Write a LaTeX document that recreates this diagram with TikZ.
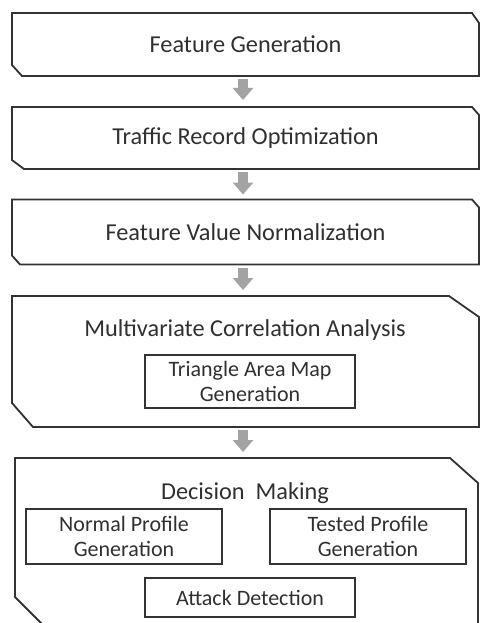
\documentclass[tikz,border=0pt]{standalone}
\usepackage{fontspec}
\setmainfont{Carlito}
\usetikzlibrary{arrows.meta}

\definecolor{linegray}{HTML}{333333}
\definecolor{textgray}{HTML}{303030}
\definecolor{arrowgray}{HTML}{A3A3A3}

\tikzset{
  frame/.style={inner sep=0pt, outer sep=0pt, text=textgray,
    font=\fontsize{24.3}{26}\selectfont},
  title/.style={text=textgray, font=\fontsize{24.3}{26}\selectfont, inner sep=0pt},
  inbox/.style={draw=linegray, line width=1.6pt, inner sep=0pt, outer sep=0pt,
    align=center, text=textgray, font=\fontsize{22}{25.5}\selectfont},
  frameline/.style={draw=linegray, line width=1.8pt, line join=miter},
  flow/.style={draw=arrowgray, line width=10pt,
    -{Triangle[width=20pt,length=12pt]}}
}

% outline with cut corners (top right, bottom left)
\newcommand{\cutbox}[5]{%
  \draw[frameline] (#1.north west) -- ([xshift=-#2]#1.north east)
    -- ([yshift=-#3]#1.north east) -- (#1.south east)
    -- ([xshift=#4]#1.south west) -- ([yshift=#5]#1.south west) -- cycle;}

\begin{document}
\begin{tikzpicture}
\begin{scope}[x=1pt,y=-1pt]
\useasboundingbox (0,0) rectangle (480,623);
\clip (0,0) rectangle (480,623);

% outer stages
\node[frame, minimum width=467pt, minimum height=63pt] (fg) at (245.5,44.5) {Feature Generation};
\node[frame, minimum width=467pt, minimum height=62pt] (tro) at (245.5,138) {Traffic Record Optimization};
\node[frame, minimum width=467pt, minimum height=65pt] (fvn) at (245.5,232) {Feature Value Normalization};
\node[frame, minimum width=467pt, minimum height=131pt] (mca) at (245.5,361.5) {};
\node[frame, minimum width=463pt, minimum height=168pt] (dm) at (246.5,542) {};

\cutbox{fg}{7pt}{10pt}{10pt}{11pt}
\cutbox{tro}{7pt}{8pt}{12pt}{9pt}
\cutbox{fvn}{7pt}{8pt}{8pt}{9pt}
\cutbox{mca}{30pt}{21pt}{21pt}{24pt}
\cutbox{dm}{28pt}{25pt}{29pt}{29pt}

% contents
\node[title] (mcatitle) at (245,330) {Multivariate Correlation Analysis};
\node[inbox, minimum width=210pt, minimum height=53pt] (tam) at (250,381.5) {Triangle Area Map\\Generation};

\node[title] (dmtitle) at (245,493) {Decision~ Making};
\node[inbox, minimum width=196pt, minimum height=55pt] (npg) at (124,536.5) {Normal Profile\\Generation};
\node[inbox, minimum width=196pt, minimum height=55pt] (tpg) at (368,536.5) {Tested Profile\\Generation};
\node[inbox, minimum width=210pt, minimum height=39pt] (ad) at (250,597.5) {Attack Detection};

% arrows
\draw[flow, shorten <=3pt, shorten >=7pt] ([xshift=-2.5pt]fg.south) -- ([xshift=-2.5pt]tro.north);
\draw[flow, shorten <=3pt, shorten >=5pt] ([xshift=-2.5pt]tro.south) -- ([xshift=-2.5pt]fvn.north);
\draw[flow, shorten <=3pt, shorten >=6pt] ([xshift=-2.5pt]fvn.south) -- ([xshift=-2.5pt]mca.north);
\draw[flow, shorten <=3pt, shorten >=6pt] ([xshift=-2.5pt]mca.south) -- ([xshift=-2.5pt]mca.south |- dm.north);
\end{scope}
\end{tikzpicture}
\end{document}
